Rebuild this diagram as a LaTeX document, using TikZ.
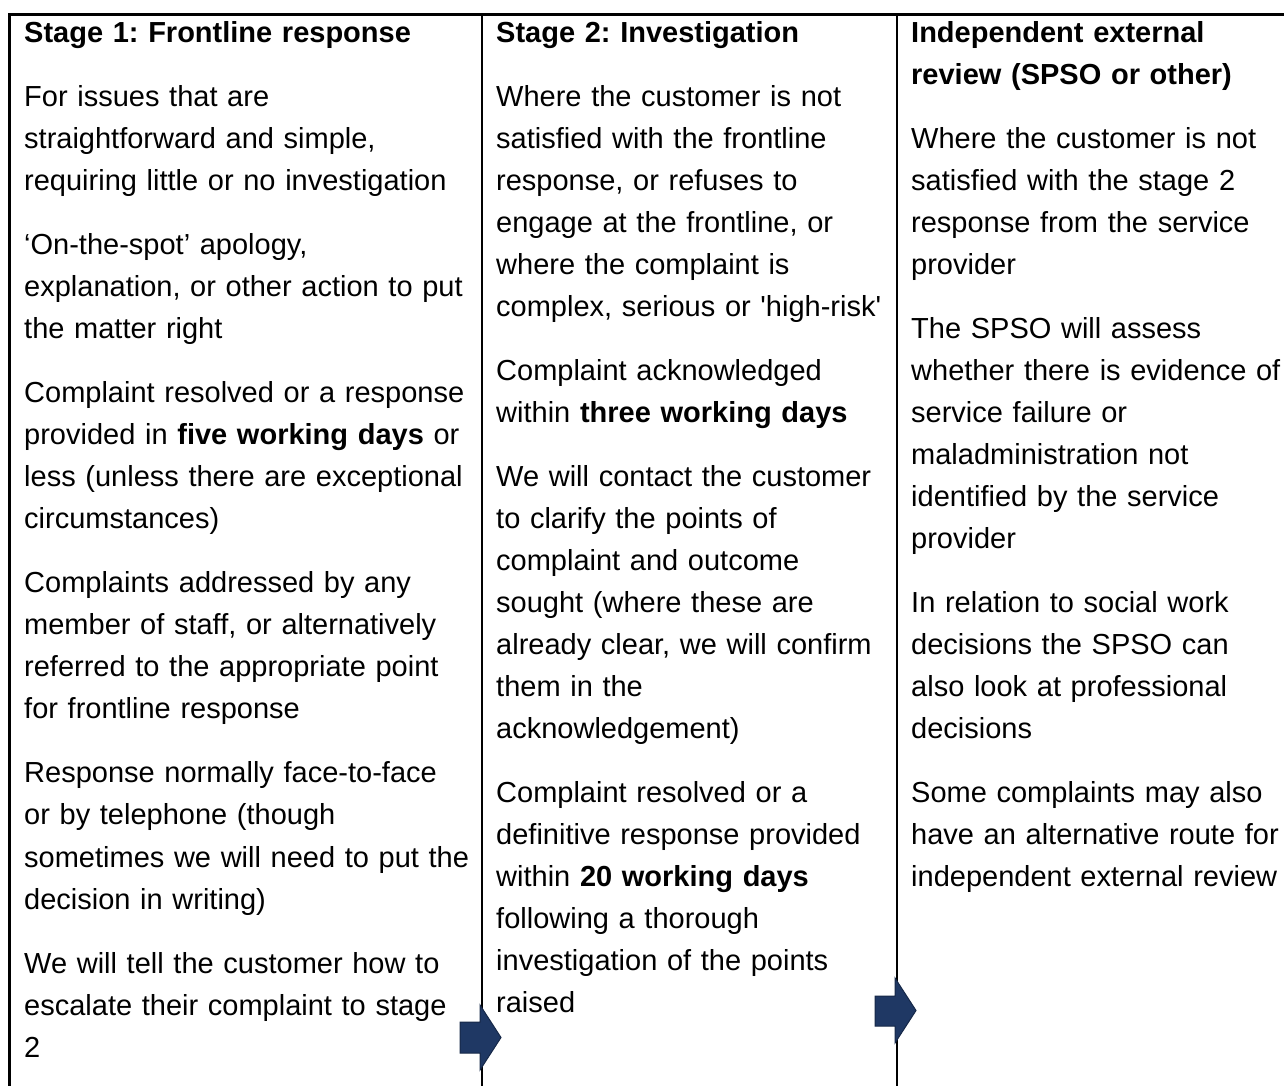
\documentclass[tikz,border=0pt]{standalone}
\usepackage{fontspec}
\setmainfont{Liberation Sans}
\frenchspacing
\definecolor{arrowfill}{RGB}{31,56,100}
\definecolor{arrowline}{RGB}{22,40,72}
\tikzset{
  colbox/.style={anchor=base west, inner sep=0pt, align=left, text width=460pt,
    font=\fontsize{29pt}{42pt}\selectfont\frenchspacing},
  rulethick/.style={line width=2.4pt, black},
  blockarrow/.style={fill=arrowfill, draw=arrowline, line width=1pt, line join=miter},
}
\newcommand\pgap{\par\vspace{22pt}}
\begin{document}
\begin{tikzpicture}[x=1pt,y=-1pt]
\useasboundingbox (0,0) rectangle (1284,1086);
\fill[white] (0,0) rectangle (1284,1086);
% frame
\draw[rulethick] (8.5,14.5) -- (1284,14.5);
\draw[line width=3pt] (9.5,13.3) -- (9.5,1086);
\draw[rulethick] (481.7,13.3) -- (481.7,1086);
\draw[rulethick] (897,13.3) -- (897,1086);
% column texts
\node[colbox] (c1) at (24,43) {\textbf{Stage 1: Frontline response}\pgap
For issues that are\\ straightforward and simple,\\ requiring little or no investigation\pgap
‘On-the-spot’ apology,\\ explanation, or other action to put\\ the matter right\pgap
Complaint resolved or a response\\ provided in \textbf{five working days} or\\ less (unless there are exceptional\\ circumstances)\pgap
Complaints addressed by any\\ member of staff, or alternatively\\ referred to the appropriate point\\ for frontline response\pgap
Response normally face-to-face\\ or by telephone (though\\ sometimes we will need to put the\\ decision in writing)\pgap
We will tell the customer how to\\ escalate their complaint to stage\\ 2};
\node[colbox] (c2) at (496,43) {\textbf{Stage 2: Investigation}\pgap
Where the customer is not\\ satisfied with the frontline\\ response, or refuses to\\ engage at the frontline, or\\ where the complaint is\\ complex, serious or \textquotesingle high-risk\textquotesingle\pgap
Complaint acknowledged\\ within \textbf{three working days}\pgap
We will contact the customer\\ to clarify the points of\\ complaint and outcome\\ sought (where these are\\ already clear, we will confirm\\ them in the\\ acknowledgement)\pgap
Complaint resolved or a\\ definitive response provided\\ within \textbf{20 working days}\\ following a thorough\\ investigation of the points\\ raised};
\node[colbox] (c3) at (911,43) {\textbf{Independent external}\\ \textbf{review (SPSO or other)}\pgap
Where the customer is not\\ satisfied with the stage 2\\ response from the service\\ provider\pgap
The SPSO will assess\\ whether there is evidence of\\ service failure or\\ maladministration not\\ identified by the service\\ provider\pgap
In relation to social work\\ decisions the SPSO can\\ also look at professional\\ decisions\pgap
Some complaints may also\\ have an alternative route for\\ independent external review};
% block arrows
\draw[blockarrow] (460,1022) -- (480,1022) -- (480,1005) -- (501,1037.5) -- (480,1070) -- (480,1053) -- (460,1053) -- cycle;
\draw[blockarrow] (875,996) -- (895,996) -- (895,978) -- (916,1010.5) -- (895,1043) -- (895,1026) -- (875,1026) -- cycle;
\end{tikzpicture}
\end{document}
